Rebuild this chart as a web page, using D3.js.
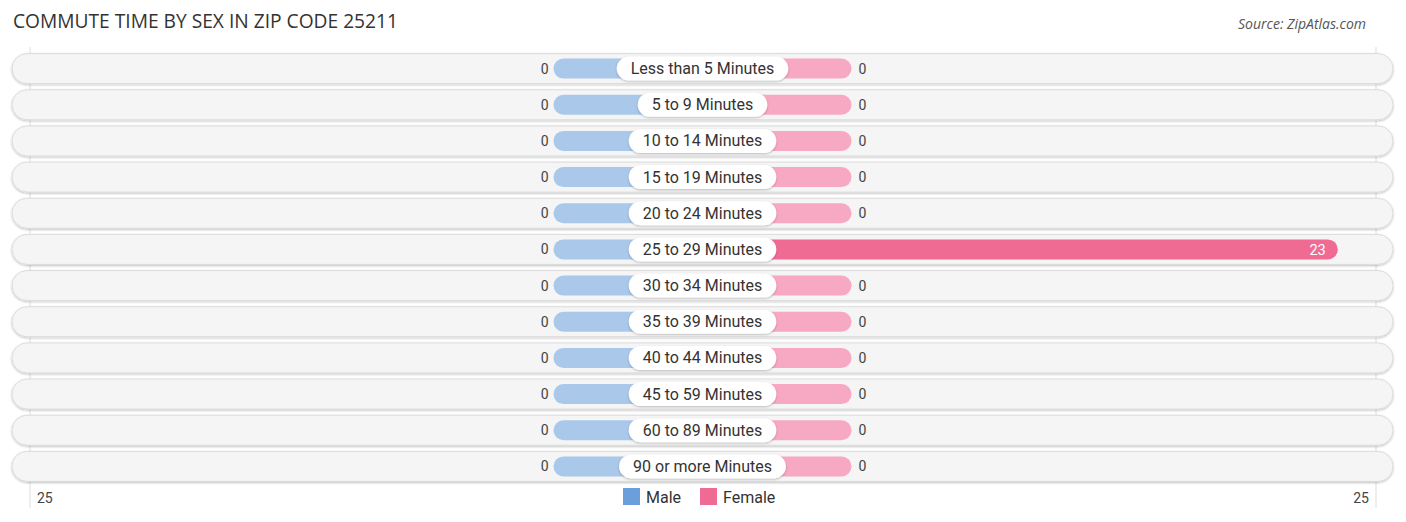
<!DOCTYPE html>
<html><head><meta charset="utf-8">
<script src="https://cdn.jsdelivr.net/npm/d3@7"></script>
<style>body{margin:0;background:#fff;font-family:Roboto,"Open Sans",sans-serif;}</style>
</head><body><svg id="c" width="1406" height="522"></svg>
<script>
const categories = ["Less than 5 Minutes","5 to 9 Minutes","10 to 14 Minutes","15 to 19 Minutes","20 to 24 Minutes","25 to 29 Minutes","30 to 34 Minutes","35 to 39 Minutes","40 to 44 Minutes","45 to 59 Minutes","60 to 89 Minutes","90 or more Minutes"];
const maleValues = [0,0,0,0,0,0,0,0,0,0,0,0];
const femaleValues = [0,0,0,0,0,23,0,0,0,0,0,0];
const axisTicks = [25, 25];
const title = "COMMUTE TIME BY SEX IN ZIP CODE 25211";
const source = "Source: ZipAtlas.com";

const svg = d3.select("#c");
const cx = 702.5, maxV = 25;
const x = d3.scaleLinear().domain([-maxV, maxV]).range([12, 1393]);
const y = d3.scaleBand().domain(categories).range([50, 485]).paddingInner(0.17).paddingOuter(0.1);
const rowH = 30, barH = 20, minW = 149;

svg.append("text").attr("x",13).attr("y",28).text(title).attr("font-size",19.2).attr("fill","#333").attr("font-family","'Open Sans',sans-serif");
svg.append("text").attr("x",1366).attr("y",29).attr("text-anchor","end").text(source).attr("font-size",14).attr("font-style","italic").attr("fill","#555").attr("font-family","'Open Sans',sans-serif");

const defs = svg.append("defs");
const f = defs.append("filter").attr("id","sh").attr("x","-5%").attr("y","-30%").attr("width","110%").attr("height","160%");
f.append("feDropShadow").attr("dx",0).attr("dy",1).attr("stdDeviation",1).attr("flood-color","#000").attr("flood-opacity",0.25);

[x(-maxV)+18, x(maxV)-17].forEach(gx=>{
  svg.append("line").attr("x1",gx).attr("x2",gx).attr("y1",47).attr("y2",508).attr("stroke","#ddd").attr("stroke-width",1);
});

const rows = svg.selectAll("g.row").data(categories).join("g").attr("class","row")
  .attr("transform", d=>`translate(0,${y(d)+y.bandwidth()/2})`);

rows.append("rect").attr("x",x(-maxV)).attr("y",-rowH/2).attr("width",x(maxV)-x(-maxV)).attr("height",rowH)
  .attr("rx",rowH/2).attr("fill","#f5f5f5").attr("stroke","#dcdcdc").attr("stroke-width",1).attr("filter","url(#sh)");

rows.each(function(cat,i){
  const g = d3.select(this);
  const m = maleValues[i], fv = femaleValues[i];
  const mx = Math.min(x(-m), cx - minW);
  const fx = Math.max(x(fv), cx + minW);
  g.append("rect").attr("x",mx).attr("y",-barH/2).attr("width",cx-mx).attr("height",barH).attr("rx",barH/2)
    .attr("fill", m>0?"#6a9fdc":"#aac8ea");
  g.append("rect").attr("x",cx).attr("y",-barH/2).attr("width",fx-cx).attr("height",barH).attr("rx",barH/2)
    .attr("fill", fv>0?"#f06b94":"#f7a8c2");
  g.append("text").attr("x",mx-5).attr("y",5).attr("text-anchor","end").attr("font-size",14).attr("fill","#444").text(m);
  if (fv>0) {
    g.append("text").attr("x",fx-12).attr("y",5.5).attr("text-anchor","end").attr("font-size",14.5).attr("fill","#fff").text(fv);
  } else {
    g.append("text").attr("x",fx+7).attr("y",5).attr("text-anchor","start").attr("font-size",14).attr("fill","#444").text(fv);
  }
  const t = g.append("text").attr("x",cx).attr("y",5.5).attr("text-anchor","middle").attr("font-size",16).attr("fill","#333").text(cat);
  const w = t.node().getComputedTextLength() + 28;
  g.insert("rect","text:last-child").attr("x",cx-w/2).attr("y",-12).attr("width",w).attr("height",24).attr("rx",12)
    .attr("fill","#fff").attr("filter","url(#sh)");
});

svg.append("text").attr("x",37).attr("y",503).attr("font-size",14).attr("fill","#444").text(axisTicks[0]);
svg.append("text").attr("x",1369).attr("y",503).attr("text-anchor","end").attr("font-size",14).attr("fill","#444").text(axisTicks[1]);

const leg = [{k:"Male",c:"#6a9fdc",x:623},{k:"Female",c:"#f06b94",x:700}];
leg.forEach(l=>{
  svg.append("rect").attr("x",l.x).attr("y",488).attr("width",17).attr("height",17).attr("fill",l.c);
  svg.append("text").attr("x",l.x+23).attr("y",502.5).attr("font-size",16).attr("fill","#333").text(l.k);
});
</script></body></html>
